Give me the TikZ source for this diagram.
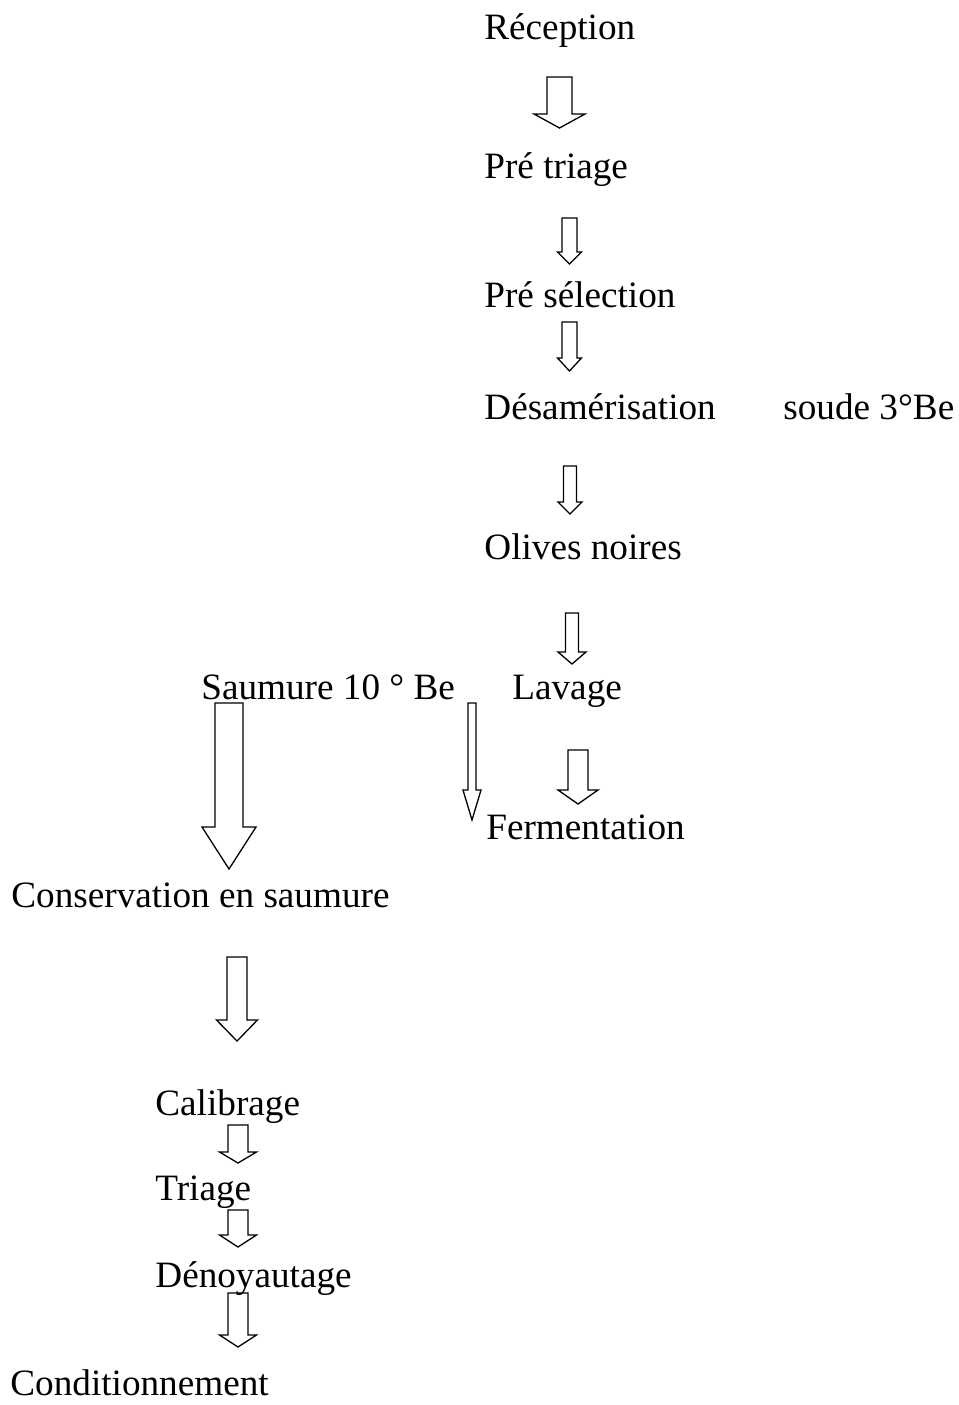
\documentclass[tikz,border=0pt]{standalone}
\usepackage{fontspec}
\setmainfont{Liberation Serif}
\usepackage{tikz}

% fleche creuse : centre x, haut, debut tete, pointe, demi-largeur tige, demi-largeur tete
\newcommand{\fleche}[6]{%
	\draw [fleche] (#1-#5,#2) -- (#1+#5,#2) -- (#1+#5,#3) -- (#1+#6,#3) -- (#1,#4)
		-- (#1-#6,#3) -- (#1-#5,#3) -- cycle;}

\begin{document}
\begin{tikzpicture}[x=0.5pt,y=-0.5pt]
	\tikzstyle{every node}+=[inner sep=0pt]
	\tikzstyle{etape}=[anchor=base west,font=\fontsize{18.6}{22}\selectfont]
	\tikzstyle{fleche}=[black,line width=0.65pt,line join=miter]
	\useasboundingbox (0,0) rectangle (959,1405);
	% branche de droite
	\node [etape] (recep) at (484,39) {Réception};
	\fleche{559.5}{77}{114}{128}{12.5}{25.5}
	\node [etape] (pretri) at (484,178) {Pré triage};
	\fleche{569.5}{218}{252}{264}{7.5}{12}
	\node [etape] (presel) at (484,307) {Pré sélection};
	\fleche{569.5}{322}{358}{371}{7.5}{12}
	\node [etape] (desam) at (484,419) {Désamérisation};
	\node [etape] (soude) at (783,419) {soude 3°Be};
	\fleche{570}{466}{502}{514}{6.5}{12}
	\node [etape] (olives) at (484,559) {Olives noires};
	\fleche{572}{613}{652}{664}{6.5}{14}
	\node [etape] (lavage) at (512,699) {Lavage};
	\fleche{578}{750}{790}{804}{10}{20}
	\node [etape] (ferm) at (486,839) {Fermentation};
	% saumure
	\node [etape] (saumure) at (201,699) {Saumure 10 ° Be};
	\fleche{229}{703}{827}{869}{14}{27}
	\fleche{472}{703}{790}{820}{4}{9}
	% branche de gauche
	\node [etape] (conserv) at (11,907) {Conservation en saumure};
	\fleche{237}{957}{1020}{1041}{10}{20.5}
	\node [etape] (calib) at (155,1115) {Calibrage};
	\fleche{238}{1125}{1152}{1163}{10}{18.5}
	\node [etape] (triage) at (155,1200) {Triage};
	\fleche{238}{1210}{1235}{1247}{10}{18.5}
	\node [etape] (denoy) at (155,1287) {Dénoyautage};
	\fleche{238}{1293}{1335}{1347}{10}{18.5}
	\node [etape] (condit) at (10,1395) {Conditionnement};
\end{tikzpicture}
\end{document}
